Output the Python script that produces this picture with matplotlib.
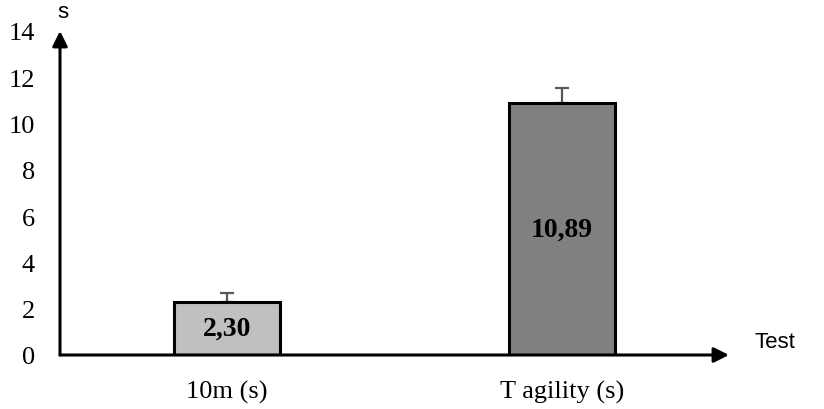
import matplotlib.pyplot as plt

# data
categories = ["10m (s)", "T agility (s)"]
values = [2.30, 10.89]
errors = [0.36, 0.65]
labels = ["2,30", "10,89"]
colors = ["#c0c0c0", "#808080"]
yticks = [0, 2, 4, 6, 8, 10, 12, 14]

fig = plt.figure(figsize=(8.24, 4.10), dpi=100)
ax = fig.add_axes([60/824, 1-356/410, 669/824, 324/410])

x = list(range(len(categories)))
ax.bar(x, values, width=0.316, color=colors, edgecolor="black", linewidth=2.2, zorder=2)
ax.errorbar(x, values, yerr=[[0, 0], errors], fmt="none", ecolor="#595959",
            elinewidth=1.6, capsize=5, capthick=1.6, zorder=1)

for i in x:
    ax.text(i, values[i]/2, labels[i], ha="center", va="center",
            fontsize=20, fontweight="bold", family="Liberation Serif", zorder=3)

ax.set_xlim(-0.5, 1.5)
ax.set_ylim(0, 14)
for s in ax.spines.values():
    s.set_visible(False)

ax.set_yticks(yticks)
ax.set_yticklabels([str(t) for t in yticks], family="Liberation Serif", fontsize=19)
ax.set_xticks(x)
ax.set_xticklabels(categories, family="Liberation Serif", fontsize=19)
ax.tick_params(axis="y", length=0, pad=18)
ax.tick_params(axis="x", length=0, pad=18)

# axes arrows
arr = dict(arrowstyle="-|>,head_length=0.9,head_width=0.45", color="black", lw=2.2,
           shrinkA=0, shrinkB=0)
ax.annotate("", xy=(1.5, 0), xytext=(-0.5, 0), arrowprops=arr, annotation_clip=False)
ax.annotate("", xy=(-0.5, 14), xytext=(-0.5, 0), arrowprops=arr, annotation_clip=False)

fig.text(63/824, 1-13/410, "s", family="Liberation Sans", fontsize=16, ha="center", va="center")
fig.text(775/824, 1-343/410, "Test", family="Liberation Sans", fontsize=16, ha="center", va="center")

fig.savefig("out.png", dpi=100)
